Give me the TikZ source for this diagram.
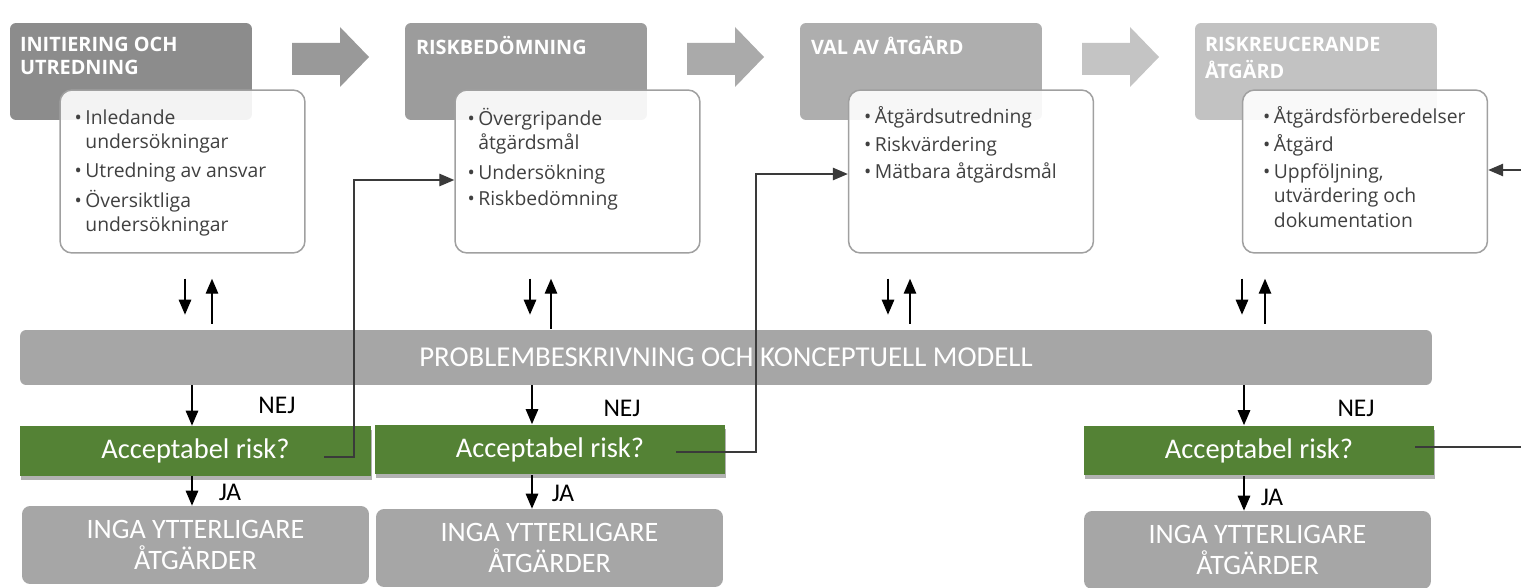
\documentclass[tikz,border=0pt]{standalone}
\usepackage{fontspec}
\setmainfont{Open Sans}
\newfontfamily\calib{Carlito}
\usepackage{tikz}
\usetikzlibrary{arrows.meta, shadows}
\definecolor{headA}{HTML}{8C8C8C}
\definecolor{headB}{HTML}{9C9C9C}
\definecolor{headC}{HTML}{AEAEAE}
\definecolor{headD}{HTML}{C2C2C2}
\definecolor{arrowA}{HTML}{999999}
\definecolor{arrowB}{HTML}{AAAAAA}
\definecolor{arrowC}{HTML}{C4C4C4}
\definecolor{boxline}{HTML}{A0A0A0}
\definecolor{txtgrey}{HTML}{404040}
\definecolor{bargrey}{HTML}{A6A6A6}
\definecolor{riskgreen}{HTML}{548235}
\definecolor{loopgrey}{HTML}{3A3A3A}

\begin{document}
\begin{tikzpicture}[x=0.02cm, y=-0.02cm, >={Triangle[length=0.3cm, width=0.25cm]},
    phasebox/.style={rectangle, rounded corners=0.12cm, minimum width=4.84cm, minimum height=1.94cm, inner sep=0},
    phasetitle/.style={anchor=north west, inner sep=0, align=left, text=white, font=\fontsize{11.3}{13}\selectfont\bfseries},
    taskbox/.style={rectangle, rounded corners=0.24cm, draw=boxline, line width=0.85pt, fill=white, fill opacity=0.9, minimum width=4.9cm, minimum height=3.26cm, inner sep=0},
    tasklist/.style={anchor=north west, inner sep=0, text=txtgrey, font=\fontsize{11}{13.7}\selectfont},
    modelbar/.style={rectangle, rounded corners=0.12cm, fill=bargrey, text=white, minimum width=28.24cm, minimum height=1.1cm, font=\calib\fontsize{16.4}{19}\selectfont},
    riskbox/.style={rectangle, fill=riskgreen, text=white, minimum width=7.02cm, minimum height=1cm, font=\calib\fontsize{16.2}{18}\selectfont,
        drop shadow={shadow xshift=0.02cm, shadow yshift=-0.08cm, fill=black, opacity=0.3}},
    donebox/.style={rectangle, rounded corners=0.16cm, fill=bargrey, text=white, minimum width=6.94cm, minimum height=1.56cm, align=center, font=\calib\fontsize{16}{17.6}\selectfont},
    answer/.style={inner sep=0, font=\calib\fontsize{14.5}{16}\selectfont},
    pairline/.style={line width=0.8pt, draw=black},
    loopline/.style={line width=0.75pt, draw=loopgrey}]

    \fill[white] (0,0) rectangle (1521,588);
    \useasboundingbox (0,0) rectangle (1521,588);

    % Block arrows between phases
    \fill[arrowA] (292,43) -- (340,43) -- (340,27) -- (369,57) -- (340,87) -- (340,75) -- (292,75) -- cycle;
    \fill[arrowB] (687,43) -- (735,43) -- (735,27) -- (764,57) -- (735,87) -- (735,75) -- (687,75) -- cycle;
    \fill[arrowC] (1082,43) -- (1130,43) -- (1130,27) -- (1159,57) -- (1130,87) -- (1130,75) -- (1082,75) -- cycle;

    % Phases
    \node[phasebox, fill=headA] (P1) at (131,71.5) {};
    \node[phasebox, fill=headB] (P2) at (526,71.5) {};
    \node[phasebox, fill=headC] (P3) at (921,71.5) {};
    \node[phasebox, fill=headD] (P4) at (1316,71.5) {};
    \node[phasetitle] (T1) at ([shift={(10,13)}]P1.north west) {\strut INITIERING OCH\\UTREDNING};
    \node[phasetitle] (T2) at ([shift={(11,13)}]P2.north west) {\strut RISKBEDÖMNING};
    \node[phasetitle] (T3) at ([shift={(11,13)}]P3.north west) {\strut VAL AV ÅTGÄRD};
    \node[phasetitle] (T4) at ([shift={(10,13)}]P4.north west) {\strut RISKREUCERANDE\\ÅTGÄRD};

    % Tasks
    \node[taskbox] (W1) at (182.5,171.5) {};
    \node[taskbox] (W2) at (577.5,171.5) {};
    \node[taskbox] (W3) at (971,171.5) {};
    \node[taskbox] (W4) at (1365,171.5) {};
    \node[tasklist] (L1) at ([shift={(15,18)}]W1.north west) {\begin{tabular}{@{}l@{\hspace{2pt}}l@{}}
        • & Inledande\\ & undersökningar\\[3pt]
        • & Utredning av ansvar\\[3pt]
        • & Översiktliga\\ & undersökningar
        \end{tabular}};
    \node[tasklist] (L2) at ([shift={(13,19)}]W2.north west) {\begin{tabular}{@{}l@{\hspace{2pt}}l@{}}
        • & Övergripande\\ & åtgärdsmål\\[3pt]
        • & Undersökning\\[1pt]
        • & Riskbedömning
        \end{tabular}};
    \node[tasklist] (L3) at ([shift={(16,17)}]W3.north west) {\begin{tabular}{@{}l@{\hspace{2pt}}l@{}}
        • & Åtgärdsutredning\\[2pt]
        • & Riskvärdering\\[2pt]
        • & Mätbara åtgärdsmål
        \end{tabular}};
    \node[tasklist] (L4) at ([shift={(21,17)}]W4.north west) {\begin{tabular}{@{}l@{\hspace{2pt}}l@{}}
        • & Åtgärdsförberedelser\\[2pt]
        • & Åtgärd\\[2pt]
        • & Uppföljning,\\ & utvärdering och\\ & dokumentation
        \end{tabular}};

    % Model, checks and outcomes
    \node[modelbar] (M) at (726,357.5) {PROBLEMBESKRIVNING OCH KONCEPTUELL MODELL};
    \node[riskbox] (G1) at (195.5,451) {Acceptabel risk?};
    \node[riskbox] (G2) at (550,449.5) {Acceptabel risk?};
    \node[riskbox] (G3) at (1259,450.5) {Acceptabel risk?};
    \node[donebox] (D1) at (195.5,545) {INGA YTTERLIGARE\\ÅTGÄRDER};
    \node[donebox] (D2) at (549.5,548) {INGA YTTERLIGARE\\ÅTGÄRDER};
    \node[donebox] (D3) at (1257.5,550) {INGA YTTERLIGARE\\ÅTGÄRDER};

    \node[answer] (nej1) at (277,405) {NEJ};
    \node[answer] (nej2) at (622,408) {NEJ};
    \node[answer] (nej3) at (1356,408) {NEJ};
    \node[answer] (ja1) at (230,492) {JA};
    \node[answer] (ja2) at (563,493) {JA};
    \node[answer] (ja3) at (1272,497) {JA};

    % Columns for the short arrows
    \coordinate (d1) at (185,0);  \coordinate (u1) at (212,0);
    \coordinate (d2) at (530,0);  \coordinate (u2) at (551,0);
    \coordinate (d3) at (888,0);  \coordinate (u3) at (910,0);
    \coordinate (d4) at (1242,0); \coordinate (u4) at (1265,0);
    \coordinate (c1) at (192,0);
    \coordinate (c2) at (532,0);
    \coordinate (c3) at (1244,0);

    % Tasks to and from the model
    \draw[pairline, ->, shorten <=0.5cm, shorten >=0.3cm] (W1.south -| d1) -- (M.north -| d1);
    \draw[pairline, ->, shorten <=0.12cm, shorten >=0.5cm] (M.north -| u1) -- (W1.south -| u1);
    \draw[pairline, ->, shorten <=0.5cm, shorten >=0.3cm] (W2.south -| d2) -- (M.north -| d2);
    \draw[pairline, ->, shorten <=0.02cm, shorten >=0.5cm] (M.north -| u2) -- (W2.south -| u2);
    \draw[pairline, ->, shorten <=0.5cm, shorten >=0.3cm] (W3.south -| d3) -- (M.north -| d3);
    \draw[pairline, ->, shorten <=0.12cm, shorten >=0.5cm] (M.north -| u3) -- (W3.south -| u3);
    \draw[pairline, ->, shorten <=0.5cm, shorten >=0.3cm] (W4.south -| d4) -- (M.north -| d4);
    \draw[pairline, ->, shorten <=0.12cm, shorten >=0.5cm] (M.north -| u4) -- (W4.south -| u4);

    % Model to checks, checks to outcomes
    \draw[pairline, ->] (M.south -| c1) -- (G1.north -| c1);
    \draw[pairline, ->] (M.south -| c2) -- (G2.north -| c2);
    \draw[pairline, ->] (M.south -| c3) -- (G3.north -| c3);
    \draw[pairline, ->] (G1.south -| c1) -- (D1.north -| c1);
    \draw[pairline, ->] (G2.south -| c2) -- (D2.north -| c2);
    \draw[pairline, ->] (G3.south -| c3) -- (D3.north -| c3);

    % NEJ loops back to the next phase
    \coordinate (n1s) at (324,457);  \coordinate (n1c) at (354,180);
    \coordinate (n2s) at (676,452);  \coordinate (n2c) at (756,174);
    \coordinate (n3s) at (1415,447); \coordinate (n3e) at (1521,447);
    \coordinate (n4s) at (1521,170);
    \draw[loopline, ->] (n1s) -| (n1c) -- (W2.west |- n1c);
    \draw[loopline, ->] (n2s) -| (n2c) -- (W3.west |- n2c);
    \draw[loopline] (n3s) -- (n3e);
    \draw[loopline, ->] (n4s) -- (W4.east |- n4s);
\end{tikzpicture}
\end{document}
